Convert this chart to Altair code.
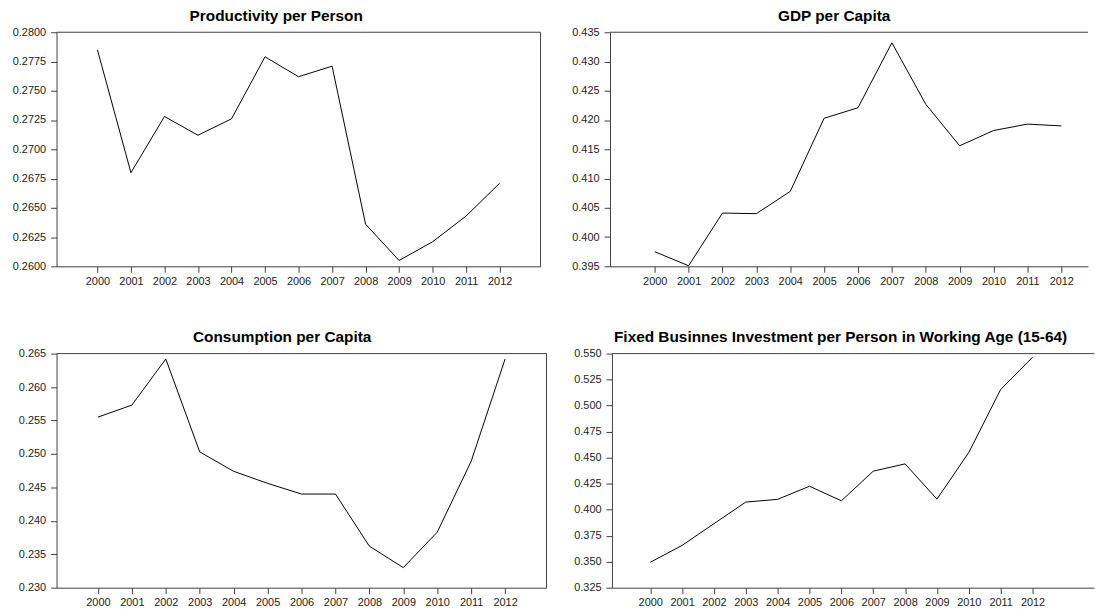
import altair as alt
import pandas as pd

years = [2000, 2001, 2002, 2003, 2004, 2005, 2006, 2007, 2008, 2009, 2010, 2011, 2012]

productivity = [0.2785, 0.2680, 0.2728, 0.2712, 0.2726, 0.2779, 0.2762, 0.2771,
                0.2636, 0.2605, 0.2621, 0.2643, 0.2671]
gdp = [0.3975, 0.3951, 0.4041, 0.4040, 0.4078, 0.4203, 0.4221, 0.4332,
       0.4227, 0.4156, 0.4182, 0.4193, 0.4190]
consumption = [0.2555, 0.2573, 0.2642, 0.2503, 0.2474, 0.2456, 0.2440, 0.2440,
               0.2362, 0.2330, 0.2383, 0.2489, 0.2642]
investment = [0.3494, 0.3656, 0.3865, 0.4073, 0.4099, 0.4225, 0.4085, 0.4370,
              0.4440, 0.4101, 0.4550, 0.5155, 0.5465]

titles = ["Productivity per Person", "GDP per Capita", "Consumption per Capita",
          "Fixed Businnes Investment per Person in Working Age (15-64)"]

ticks_prod = [0.2600, 0.2625, 0.2650, 0.2675, 0.2700, 0.2725, 0.2750, 0.2775, 0.2800]
ticks_gdp = [0.395, 0.400, 0.405, 0.410, 0.415, 0.420, 0.425, 0.430, 0.435]
ticks_cons = [0.230, 0.235, 0.240, 0.245, 0.250, 0.255, 0.260, 0.265]
ticks_inv = [0.325, 0.350, 0.375, 0.400, 0.425, 0.450, 0.475, 0.500, 0.525, 0.550]

FRAME = "#404040"
FONT = "Liberation Sans"
H = 236


def panel(values, title, yticks, yfmt, xdom, width, title_dx, right_border):
    df = pd.DataFrame({"year": years, "value": values})
    line = alt.Chart(df).mark_line(color="black", strokeWidth=1).encode(
        x=alt.X("year:Q",
                scale=alt.Scale(domain=xdom, nice=False, zero=False),
                axis=alt.Axis(values=years, format="d", title=None, grid=False,
                              labelFont=FONT, labelFontSize=11, labelColor="#222222",
                              tickSize=6, labelPadding=3, domainColor=FRAME,
                              tickColor=FRAME, labelFlush=False)),
        y=alt.Y("value:Q",
                scale=alt.Scale(domain=[yticks[0], yticks[-1]], nice=False, zero=False),
                axis=alt.Axis(values=yticks, format=yfmt, title=None, grid=False,
                              labelFont=FONT, labelFontSize=11, labelColor="#222222",
                              tickSize=6, labelPadding=5, domainColor=FRAME,
                              tickColor=FRAME, labelFlush=False)),
    )
    one = pd.DataFrame({"k": [0]})
    top = alt.Chart(one).mark_rule(color=FRAME, strokeWidth=1).encode(
        x=alt.value(0), x2=alt.value(width), y=alt.value(0))
    layers = [line, top]
    if right_border:
        right = alt.Chart(one).mark_rule(color=FRAME, strokeWidth=1).encode(
            x=alt.value(width), y=alt.value(0), y2=alt.value(H))
        layers.append(right)
    return alt.layer(*layers).properties(
        width=width, height=H,
        title=alt.TitleParams(title, font=FONT, fontSize=15.5, fontWeight="bold",
                              color="black", anchor="middle", dx=title_dx, offset=2),
    )


p1 = panel(productivity, titles[0], ticks_prod, ".4f", [1998.78, 2013.22], 488, -22.5, True)
p2 = panel(gdp, titles[1], ticks_gdp, ".3f", [1998.68, 2012.79], 482, -15, False)
p3 = panel(consumption, titles[2], ticks_cons, ".3f", [1998.78, 2013.22], 494, -19.5, True)
p4 = panel(investment, titles[3], ticks_inv, ".3f", [1998.8, 2013.93], 486, -12.5, False)

row1 = alt.hconcat(p1, p2, spacing=29)
row2 = alt.hconcat(p3, p4, spacing=25)

chart = alt.vconcat(row1, row2, spacing=43).properties(
    padding={"left": 11, "top": 6, "right": 0, "bottom": 0},
    background="white",
).configure_view(stroke="transparent")

chart.save("out.html", embed_options={"renderer": "svg", "actions": False})
